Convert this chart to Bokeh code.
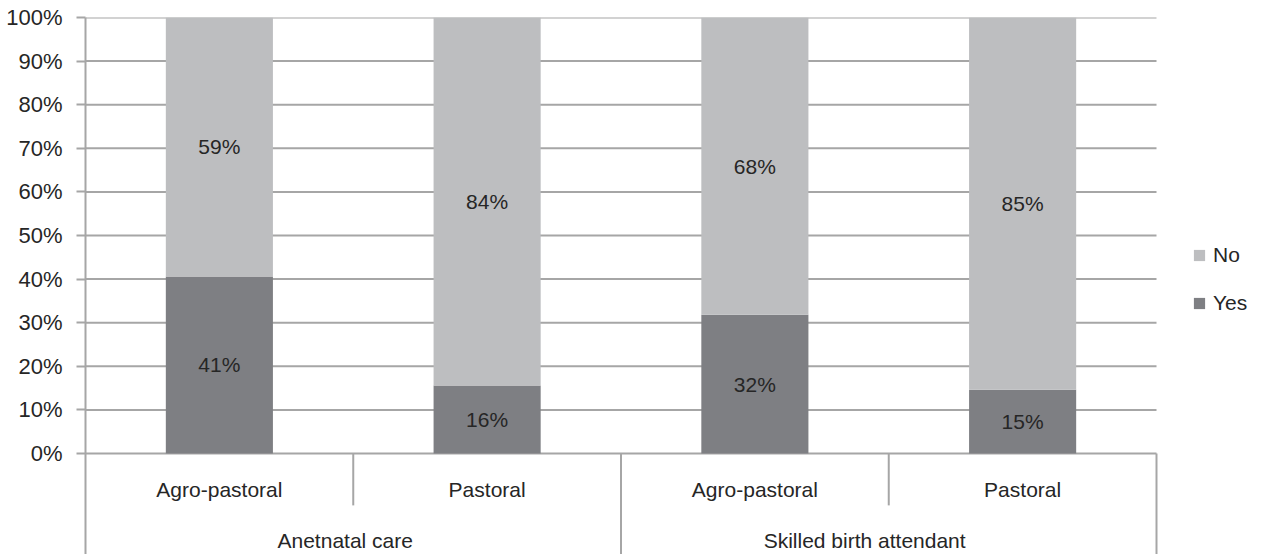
from bokeh.plotting import figure
from bokeh.models import (ColumnDataSource, Range1d, LinearAxis, FixedTicker,
                          Legend, LegendItem)
from bokeh.core.properties import value
from bokeh.embed import file_html
from bokeh.resources import INLINE

# ---- data ----
groups = ["Anetnatal care", "Skilled birth attendant"]
settings = ["Agro-pastoral", "Pastoral", "Agro-pastoral", "Pastoral"]
yes = [40.6, 15.6, 31.8, 14.6]
no = [59.4, 84.4, 68.2, 85.4]
y_ticks = [0, 10, 20, 30, 40, 50, 60, 70, 80, 90, 100]

FONT = "Liberation Sans"
FS = "21px"
C_NO = "#BDBEC0"
C_YES = "#7E7F83"
C_GRID = "#A6A6A6"
C_TEXT = "#262626"

n = len(settings)
xs = [i + 0.5 for i in range(n)]
yes_top = yes
no_top = [a + b for a, b in zip(yes, no)]

src = ColumnDataSource(dict(
    x=xs, yes=yes, no=no, yes_top=yes_top, no_top=no_top,
    zero=[0] * n,
    yes_mid=[v / 2 for v in yes],
    no_mid=[a + b / 2 for a, b in zip(yes, no)],
    yes_lab=[f"{round(v)}%" for v in yes],
    no_lab=[f"{round(v)}%" for v in no],
    setting=settings,
    set_y=[-8.3] * n,
))

y_bottom = -23.165
p = figure(width=1261, height=554, output_backend="svg", toolbar_location=None,
           x_range=Range1d(0, 4.0 + 105 / 267.75), y_range=Range1d(y_bottom, 100),
           x_axis_type=None, y_axis_type=None,
           min_border_left=85, min_border_right=0, min_border_top=17,
           min_border_bottom=0)
p.outline_line_color = None
p.grid.visible = False

# y axis
ax = LinearAxis(ticker=FixedTicker(ticks=y_ticks))
ax.major_label_overrides = {t: f"{t}%" for t in y_ticks}
ax.axis_line_color = C_GRID
ax.axis_line_width = 2
ax.major_tick_line_color = C_GRID
ax.major_tick_line_width = 2
ax.major_tick_out = 9
ax.major_tick_in = 0
ax.minor_tick_line_color = None
ax.major_label_text_font = FONT
ax.major_label_text_font_size = "22px"
ax.major_label_text_color = C_TEXT
ax.major_label_standoff = 14
p.add_layout(ax, "left")

# gridlines
p.segment(x0=[0] * len(y_ticks), x1=[n] * len(y_ticks), y0=y_ticks, y1=y_ticks,
          line_color=C_GRID, line_width=2)

# bars
bw = 0.4
r_yes = p.vbar(x="x", width=bw, bottom="zero", top="yes_top", source=src,
               fill_color=C_YES, line_color=None)
r_no = p.vbar(x="x", width=bw, bottom="yes_top", top="no_top", source=src,
              fill_color=C_NO, line_color=None)

# bar labels
for col, ycol in (("yes_lab", "yes_mid"), ("no_lab", "no_mid")):
    p.text(x="x", y=ycol, text=col, source=src, text_align="center",
           text_baseline="middle", text_font=value(FONT),
           text_font_size=FS, text_color=C_TEXT)

# category table below the axis
short_sep = [1, 3]
long_sep = [2, 4]
p.segment(x0=short_sep, x1=short_sep, y0=[0, 0], y1=[-11.9, -11.9],
          line_color=C_GRID, line_width=2)
p.segment(x0=long_sep, x1=long_sep, y0=[0, 0], y1=[y_bottom, y_bottom],
          line_color=C_GRID, line_width=2)

p.text(x="x", y="set_y", text="setting", source=src, text_align="center",
       text_baseline="middle", text_font=value(FONT), text_font_size=FS,
       text_color=C_TEXT)
p.text(x=[0.97, 2.91], y=[-19.9, -19.9], text=groups, text_align="center",
       text_baseline="middle", text_font=value(FONT), text_font_size=FS,
       text_color=C_TEXT)

# legend
leg = Legend(items=[LegendItem(label="No", renderers=[r_no]),
                    LegendItem(label="Yes", renderers=[r_yes])],
             location=(1107, 239))
leg.glyph_width = 14
leg.glyph_height = 14
leg.label_height = 24
leg.spacing = 24
leg.padding = 0
leg.margin = 0
leg.label_standoff = 7
leg.label_text_font = FONT
leg.label_text_font_size = FS
leg.label_text_color = C_TEXT
leg.border_line_color = None
leg.background_fill_alpha = 0
p.add_layout(leg)

open("out.html", "w").write(file_html(p, INLINE))
